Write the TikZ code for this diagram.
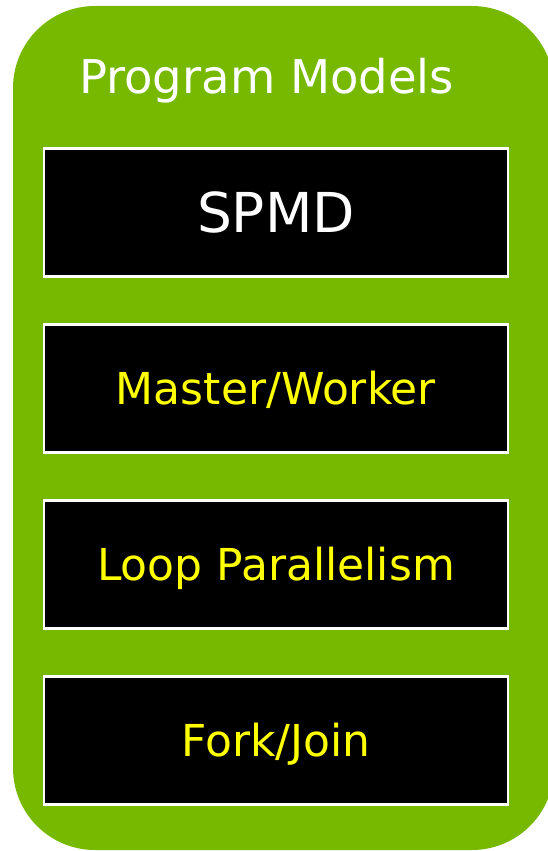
\documentclass[tikz,border=0pt]{standalone}
\usepackage{fontspec}
\setmainfont{DejaVu Sans}
\usepackage{xcolor}
\usepackage{tikz}
\usetikzlibrary{positioning}

\definecolor{nvgreen}{HTML}{76B900}
\definecolor{modelyellow}{HTML}{FFFF00}

\begin{document}
\begin{tikzpicture}[
  x=1pt, y=1pt,
  panel/.style={fill=nvgreen, rounded corners=82pt},
  model/.style={rectangle, draw=white, line width=2.2pt, fill=black, minimum width=464pt, minimum height=128pt, inner sep=0pt, text depth=0pt},
  modeltext/.style={model, text=modelyellow, font=\fontsize{44}{49}\selectfont, text height=32pt},
  title/.style={text=white, font=\fontsize{46.5}{52}\selectfont, anchor=base, inner sep=0pt}
]
  \useasboundingbox (0,0) rectangle (548,-851);
  \fill[panel] (13,-6) rectangle (554,-850);

  \node[title] (head) at (266.5,-93) {Program Models};

  \node[model, text=white, font=\fontsize{55}{60}\selectfont, text height=39pt] (spmd) at (276,-212.5) {SPMD};
  \node[modeltext] (master) at (276,-388.5) {Master/Worker};
  \node[modeltext] (loop)   at (276,-564.5) {Loop Parallelism};
  \node[modeltext] (fork)   at (276,-740.5) {Fork/Join};
\end{tikzpicture}
\end{document}
